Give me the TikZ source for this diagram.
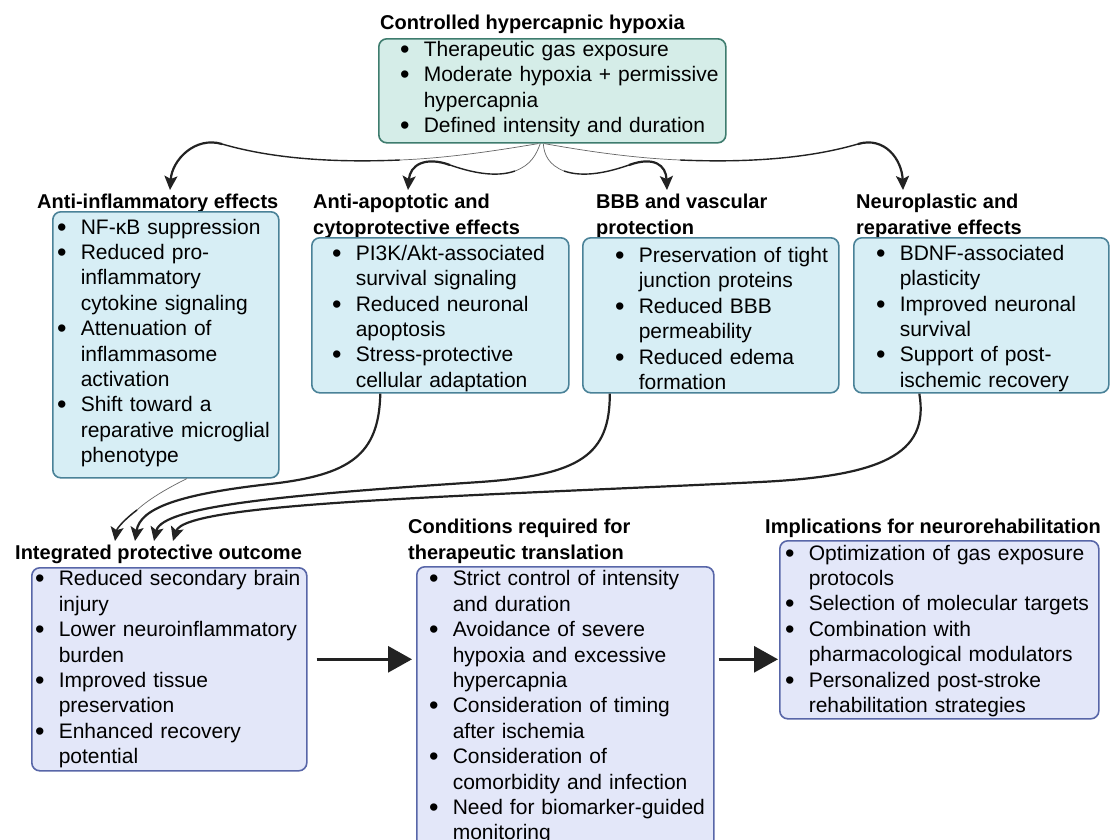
\documentclass[tikz,border=0pt]{standalone}
\usepackage{fontspec}
\setmainfont{Liberation Sans}
\usetikzlibrary{arrows.meta,calc}
\definecolor{tealfill}{HTML}{D5EDE8}
\definecolor{tealline}{HTML}{3E7C6E}
\definecolor{bluefill}{HTML}{D7EEF5}
\definecolor{blueline}{HTML}{4A8298}
\definecolor{lavfill}{HTML}{E3E7F9}
\definecolor{lavline}{HTML}{5866A8}
\definecolor{ink}{HTML}{222222}
\newcommand{\bigbul}{\raisebox{-2pt}{\fontsize{27}{27}\selectfont\textbullet}}
\newcommand{\itm}[1]{\par\noindent\llap{\bigbul\hskip 14.3pt}#1\par}
\newcommand{\boxtext}[2]{\vspace*{#2pt}\leftskip=#1pt\rightskip=-40pt plus 1fil\parindent=0pt\parskip=0pt}
\tikzset{
  panel/.style={draw, rounded corners=8pt, line width=1.6pt, inner sep=0pt, anchor=north west,
    font=\fontsize{21}{25.4}\selectfont},
  tealpanel/.style={panel, draw=tealline, fill=tealfill},
  bluepanel/.style={panel, draw=blueline, fill=bluefill},
  lavpanel/.style={panel, draw=lavline, fill=lavfill},
  ttl/.style={anchor=north west, inner sep=0pt, align=left,
    font=\fontsize{20}{26}\selectfont\bfseries},
  thinpart/.style={draw=black!60, line width=0.7pt},
  midpart/.style={draw=ink, line width=1.4pt},
  thickpart/.style={draw=ink, line width=2.2pt, -{Stealth[length=14pt,width=13pt,inset=3pt]}},
  curvearrow/.style={draw=ink, line width=2.2pt, -{Stealth[length=14pt,width=13pt,inset=3pt]}},
  bigarrow/.style={draw=ink, line width=3pt, -{Triangle[length=24pt,width=26pt]}}
}
\begin{document}
\begin{tikzpicture}[x=1pt,y=-1pt]
\fill[white] (0,0) rectangle (1120,839);
\useasboundingbox (0,0) rectangle (1120,839);

% ---------- top ----------
\node[ttl] (topT) at (380,15) {Controlled hypercapnic hypoxia};
\node[tealpanel, text width=347pt, minimum height=104pt] (top) at (378,38) {\boxtext{45}{-14}%
\itm{Therapeutic gas exposure}
\itm{Moderate hypoxia + permissive\\hypercapnia}
\itm{Defined intensity and duration}};

% ---------- row 2 ----------
\node[ttl] (aiT) at (37,194) {Anti-inflammatory effects};
\node[bluepanel, text width=226pt, minimum height=266pt] (ai) at (52,211) {\boxtext{28}{-14}%
\itm{NF-κB suppression}
\itm{Reduced pro-\\inflammatory\\cytokine signaling}
\itm{Attenuation of\\inflammasome\\activation}
\itm{Shift toward a\\reparative microglial\\phenotype}};

\node[ttl] (aaT) at (313,194) {Anti-apoptotic and\\cytoprotective effects};
\node[bluepanel, text width=257pt, minimum height=155pt] (aa) at (311,237) {\boxtext{44}{-4}%
\itm{PI3K/Akt-associated\\survival signaling}
\itm{Reduced neuronal\\apoptosis}
\itm{Stress-protective\\cellular adaptation}};

\node[ttl] (bbbT) at (596,194) {BBB and vascular\\protection};
\node[bluepanel, text width=256pt, minimum height=155pt] (bbb) at (582,237) {\boxtext{56}{-4}%
\itm{Preservation of tight\\junction proteins}
\itm{Reduced BBB\\permeability}
\itm{Reduced edema\\formation}};

\node[ttl] (npT) at (856,194) {Neuroplastic and\\reparative effects};
\node[bluepanel, text width=255pt, minimum height=155pt] (np) at (853,237) {\boxtext{46}{-4}%
\itm{BDNF-associated\\plasticity}
\itm{Improved neuronal\\survival}
\itm{Support of post-\\ischemic recovery}};

% ---------- row 3 ----------
\node[ttl] (intT) at (15,545) {Integrated protective outcome};
\node[lavpanel, text width=275pt, minimum height=203pt] (int) at (31,567) {\boxtext{27}{-10}%
\itm{Reduced secondary brain\\injury}
\itm{Lower neuroinflammatory\\burden}
\itm{Improved tissue\\preservation}
\itm{Enhanced recovery\\potential}};

\node[ttl] (condT) at (408,519) {Conditions required for\\therapeutic translation};
\node[lavpanel, text width=297pt, minimum height=285pt] (cond) at (416,566) {\boxtext{36}{-14}%
\itm{Strict control of intensity\\and duration}
\itm{Avoidance of severe\\hypoxia and excessive\\hypercapnia}
\itm{Consideration of timing\\after ischemia}
\itm{Consideration of\\comorbidity and infection}
\itm{Need for biomarker-guided\\monitoring}};

\node[ttl] (implT) at (765,519) {Implications for neurorehabilitation};
\node[lavpanel, text width=319pt, minimum height=178pt] (impl) at (779,540) {\boxtext{29}{-8}%
\itm{Optimization of gas exposure\\protocols}
\itm{Selection of molecular targets}
\itm{Combination with\\pharmacological modulators}
\itm{Personalized post-stroke\\rehabilitation strategies}};

% ---------- top arrows (tapered) ----------
\coordinate (o1) at ([xshift=-14pt]top.south);
\coordinate (o2) at ([xshift=-12pt]top.south);
\coordinate (o3) at ([xshift=-9pt]top.south);
\coordinate (o4) at ([xshift=-8pt]top.south);
% to anti-inflammatory
\draw[thinpart] (o1) .. controls (500,150) and (450,158) .. (400,160);
\draw[midpart] (400,160) .. controls (330,163) and (270,158) .. (222,144);
\draw[thickpart] (222,144) .. controls (195,136) and (172,160) .. ([xshift=133pt,yshift=4pt]aiT.north west);
% to anti-apoptotic
\draw[thinpart] (o2) .. controls (536,155) and (531,165) .. (515,171);
\draw[midpart] (515,171) .. controls (495,178) and (470,172) .. (450,165);
\draw[thickpart] (450,165) .. controls (425,156) and (410,165) .. ([xshift=95pt,yshift=4pt]aaT.north west);
% to BBB
\draw[thinpart] (o3) .. controls (544,155) and (549,165) .. (564,171);
\draw[midpart] (564,171) .. controls (584,178) and (609,172) .. (629,165);
\draw[thickpart] (629,165) .. controls (654,156) and (666,165) .. ([xshift=71pt,yshift=4pt]bbbT.north west);
% to neuroplastic
\draw[thinpart] (o4) .. controls (580,150) and (630,158) .. (680,160);
\draw[midpart] (680,160) .. controls (750,163) and (810,158) .. (858,144);
\draw[thickpart] (858,144) .. controls (885,136) and (902,160) .. ([xshift=47pt,yshift=4pt]npT.north west);

% ---------- converging arrows ----------
\draw[thinpart] ([xshift=21pt]ai.south) .. controls (170,487) and (150,498) .. (137,510);
\draw[draw=ink, line width=1.5pt, -{Stealth[length=14pt,width=13pt,inset=3pt]}]
  (137,510) .. controls (125,519) and (117,528) .. ([xshift=100pt,yshift=4pt]intT.north west);
\draw[curvearrow] ([xshift=-60pt]aa.south) .. controls (379,455) and (350,475) .. (270,484)
  .. controls (180,494) and (140,508) .. ([xshift=120pt,yshift=4pt]intT.north west);
\draw[curvearrow] ([xshift=-101pt]bbb.south) .. controls (610,455) and (580,475) .. (480,482)
  .. controls (300,494) and (162,505) .. ([xshift=139pt,yshift=4pt]intT.north west);
\draw[curvearrow] ([xshift=-62pt]np.south) .. controls (930,455) and (880,476) .. (760,482)
  .. controls (450,497) and (185,503) .. ([xshift=158pt,yshift=4pt]intT.north west);

% ---------- horizontal arrows ----------
\draw[bigarrow] ($(int.east)+(9,-10)$) -- ($(cond.west |- int.east)+(-4,-10)$);
\draw[bigarrow] ($(cond.east |- int.east)+(4,-10)$) -- ($(impl.west |- int.east)+(-1,-10)$);
\end{tikzpicture}
\end{document}
